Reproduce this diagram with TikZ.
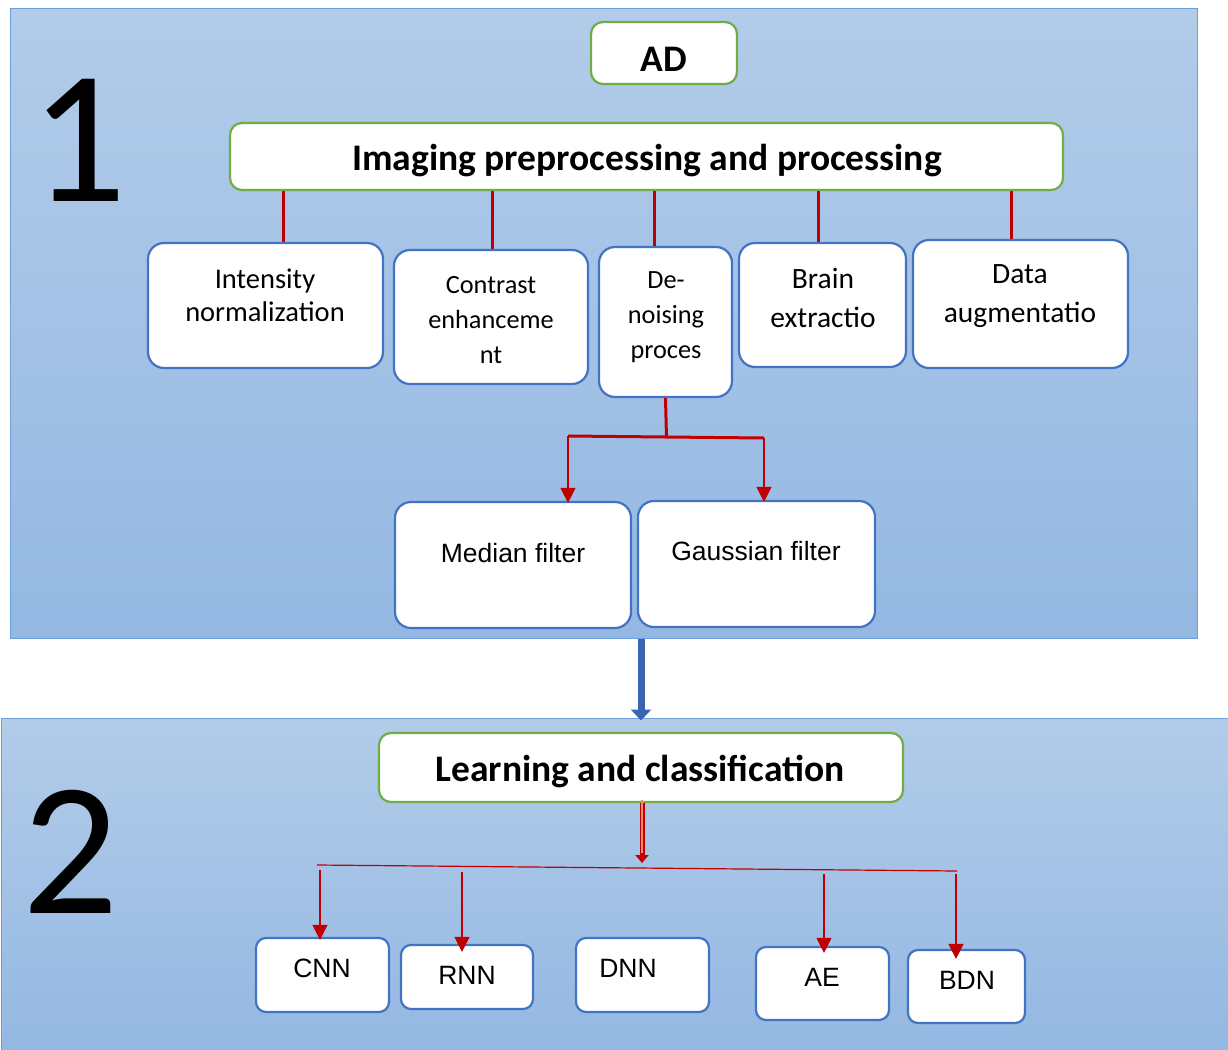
\documentclass[tikz,border=0pt]{standalone}
\usepackage{fontspec}
\setmainfont{Carlito}
\newfontfamily\arialf{Liberation Sans}
\usetikzlibrary{arrows.meta,calc}
\definecolor{boxblue}{HTML}{4472C4}
\definecolor{boxgreen}{HTML}{70AD47}
\definecolor{conred}{HTML}{C00000}
\definecolor{paneltop}{HTML}{B2CCE9}
\definecolor{panelbot}{HTML}{94B8E2}
\definecolor{panelline}{HTML}{6C9FDB}
\definecolor{arrblue}{HTML}{3A64B0}
\definecolor{arrinner}{HTML}{E89070}
\begin{document}
\begin{tikzpicture}[x=1pt,y=-1pt,
 panel/.style={draw=panelline,line width=1pt,top color=paneltop,bottom color=panelbot,inner sep=0pt},
 bluebox/.style={draw=boxblue,line width=2.2pt,fill=white,rounded corners=16pt,inner sep=0pt},
 greenbox/.style={draw=boxgreen,line width=2.2pt,fill=white,rounded corners=12pt,inner sep=0pt},
 redline/.style={draw=conred,line width=3pt},
 redarrow/.style={draw=conred,line width=1.2pt,-{Triangle[width=15pt,length=15pt]}},
 ctext/.style={font=\fontsize{26.3}{35}\selectfont,align=center,text=black,inner sep=0pt},
 atext/.style={font=\arialf\fontsize{26.5}{30}\selectfont,text=black,inner sep=0pt},
 btext/.style={font=\bfseries\fontsize{37.5}{44}\selectfont,text=black,inner sep=0pt},
 bignum/.style={font=\fontsize{190}{190}\selectfont,text=black,inner sep=0pt}
]
\useasboundingbox (0,0) rectangle (1228,1049);
% panels
\node[panel,minimum width=1187pt,minimum height=629pt] (p1) at (603.5,323.5) {};
\node[panel,minimum width=1230pt,minimum height=334pt] (p2) at (616,885) {};
\node[bignum] (n1) at (79,140) {1};
\node[bignum] (n2) at (71,852) {2};
% top boxes
\node[greenbox,minimum width=146pt,minimum height=62pt] (ad) at (664,53) {};
\node[btext] (adt) at (664,59) {AD};
\node[greenbox,minimum width=833pt,minimum height=67pt] (img) at (646.5,156.5) {};
\node[btext] (imgt) at (647,161) {Imaging preprocessing and processing};
\node[bluebox,minimum width=235pt,minimum height=125pt] (int) at (265.5,305.5) {};
\node[ctext,font=\fontsize{28.5}{33}\selectfont] (intt) at (265,295) {Intensity\\normalization};
\node[bluebox,minimum width=194pt,minimum height=134pt] (con) at (491,317) {};
\node[ctext] (cont) at (491,320) {Contrast\\enhanceme\\nt};
\node[bluebox,minimum width=133pt,minimum height=150pt] (den) at (665.5,322) {};
\node[ctext] (dent) at (666,317) {De-\\noising\\proces};
\node[bluebox,minimum width=167pt,minimum height=124pt] (bra) at (822.5,305) {};
\node[ctext,font=\fontsize{29.5}{39}\selectfont] (brat) at (823,298) {Brain\\extractio};
\node[bluebox,minimum width=215pt,minimum height=128pt] (dat) at (1020.5,304) {};
\node[ctext,font=\fontsize{29.5}{39}\selectfont] (datt) at (1020,296) {Data\\augmentatio};
% connectors from img
\draw[redline] ([xshift=18pt]int.north) -- ([xshift=18pt]int.north |- img.south);
\draw[redline] ([xshift=1pt]con.north) -- ([xshift=1pt]con.north |- img.south);
\draw[redline] ([xshift=-11pt]den.north) -- ([xshift=-11pt]den.north |- img.south);
\draw[redline] ([xshift=-4pt]bra.north) -- ([xshift=-4pt]bra.north |- img.south);
\draw[redline] ([xshift=-9pt]dat.north) -- ([xshift=-9pt]dat.north |- img.south);
% filters
\node[bluebox,minimum width=236pt,minimum height=126pt] (med) at (513,565) {};
\node[atext] (medt) at (513,553) {Median filter};
\node[bluebox,minimum width=237pt,minimum height=126pt] (gau) at (756.5,564) {};
\node[atext] (gaut) at (756,551) {Gaussian filter};
\coordinate (forkL) at (568,436);
\coordinate (forkR) at (764,438);
\draw[redline] (den.south) -- ++(1,40);
\draw[redline] (forkL) -- (forkR);
\draw[redarrow] (forkL) -- ([yshift=-2pt]med.north -| forkL);
\draw[redarrow] (forkR) -- ([yshift=-2pt]gau.north -| forkR);
% blue arrow between panels
\draw[arrblue,line width=7pt,-{Triangle[width=20pt,length=11pt]}] (p1.south -| 641,0) -- ([yshift=-3pt]p2.north -| 641,0);
% learning
\node[greenbox,minimum width=524pt,minimum height=69pt] (lea) at (641,767.5) {};
\node[btext] (leat) at (640,771) {Learning and classification};
\coordinate (hl) at (317,865);
\coordinate (hr) at (957,871);
\draw[conred,line width=5pt,-{Triangle[width=13pt,length=8pt]}] (lea.south -| 642,0) -- (642,863);
\draw[arrinner,line width=1.2pt] ([yshift=3pt]lea.south -| 642,0) -- (642,853);
\draw[conred,line width=1.2pt] (hl) -- (hr);
% bottom boxes
\node[bluebox,rounded corners=10pt,minimum width=133pt,minimum height=74pt] (cnn) at (322.5,975) {};
\node[atext] (cnnt) at (322,968) {CNN};
\node[bluebox,rounded corners=10pt,minimum width=132pt,minimum height=64pt] (rnn) at (467,977) {};
\node[atext] (rnnt) at (467,975) {RNN};
\node[bluebox,rounded corners=10pt,minimum width=133pt,minimum height=74pt] (dnn) at (642.5,975) {};
\node[atext] (dnnt) at (628,968) {DNN};
\node[bluebox,rounded corners=10pt,minimum width=133pt,minimum height=73pt] (ae) at (822.5,983.5) {};
\node[atext] (aet) at (822,977) {AE};
\node[bluebox,rounded corners=10pt,minimum width=117pt,minimum height=73pt] (bdn) at (966.5,986.5) {};
\node[atext] (bdnt) at (967,980) {BDN};
\draw[redarrow] (320,870) -- ([yshift=-3pt]cnn.north -| 320,0);
\draw[redarrow] (462,872) -- ([yshift=-8pt]rnn.north -| 462,0);
\draw[redarrow] (824,874) -- ([yshift=-7pt]ae.north -| 824,0);
\draw[redarrow] (956,874) -- ([yshift=-10pt]bdn.north -| 956,0);
\end{tikzpicture}
\end{document}
